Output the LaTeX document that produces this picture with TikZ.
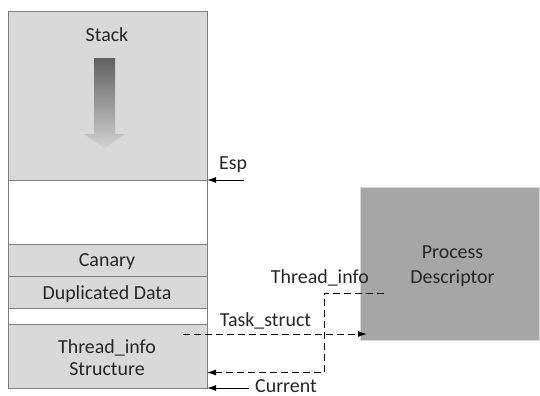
\documentclass[tikz,border=0pt]{standalone}
\usepackage{fontspec}
\setmainfont{Carlito}
\usetikzlibrary{arrows.meta}
\definecolor{boxfill}{HTML}{D9D9D9}
\definecolor{boxline}{HTML}{7F7F7F}
\definecolor{pdfill}{HTML}{A6A6A6}
\tikzset{
  mem/.style={draw=boxline, line width=0.9bp, fill=boxfill},
  blank/.style={draw=boxline, line width=0.9bp, fill=white},
  lbl/.style={font=\fontsize{20}{24}\selectfont, text=black!85, inner sep=0pt},
  ptr/.style={-{Latex[length=9bp,width=6bp]}, line width=1bp, black},
  dptr/.style={ptr, dash pattern=on 7bp off 4bp},
}
\begin{document}
\begin{tikzpicture}[x=1bp,y=-1bp]
\useasboundingbox (0,0) rectangle (540,395);
% stack column
\path[mem] (8,11) rectangle (207,180);
\path[blank] (8,180) rectangle (207,244);
\path[mem] (8,244) rectangle (207,276);
\path[mem] (8,276) rectangle (207,308);
\path[blank] (8,308) rectangle (207,324);
\path[mem] (8,324) rectangle (207,388);
\node[lbl, anchor=base] (stack) at (107,41.5) {Stack};
\node[lbl, anchor=base] (canary) at (107,266.5) {Canary};
\node[lbl, anchor=base] (dup) at (107,299) {Duplicated Data};
\node[lbl, anchor=base] (ti1) at (107,353) {Thread\_info};
\node[lbl, anchor=base] (ti2) at (107,375.5) {Structure};
% gradient arrow
\shade[top color=black!62, bottom color=black!18]
  (94,58) -- (115,58) -- (115,134) -- (125,134) -- (104.5,148) -- (84,134) -- (94,134) -- cycle;
% coordinates
\coordinate (espend) at (207,180);
\coordinate (espstart) at (244,180);
\coordinate (curend) at (207,388);
\coordinate (curstart) at (249,388);
\node[lbl, anchor=base west] (esp) at (219,169.5) {Esp};
\node[lbl, anchor=base west] (cur) at (255,392.5) {Current};
\draw[ptr] (espstart) -- (espend);
\draw[ptr] (curstart) -- (curend);
% process descriptor
\node[draw=white!85!black, line width=1bp, fill=pdfill, minimum width=179bp, minimum height=153bp, inner sep=0pt] (pd) at (450,263.5) {};
\node[lbl, anchor=base] (pdt1) at (452.5,258) {Process};
\node[lbl, anchor=base] (pdt2) at (452.5,283) {Descriptor};
\node[lbl, anchor=base east] (tilbl) at (369,283) {Thread\_info};
\node[lbl, anchor=base] (tslbl) at (265.5,326) {Task\_struct};
% dashed pointers
\coordinate (tsstart) at (183,334);
\coordinate (tsend) at (367,334);
\draw[dptr] (tsstart) -- (tsend);
\coordinate (tistart) at (384,293);
\coordinate (tiend) at (207,372.5);
\draw[dptr] (tistart) -- (324,293) -- (324,372.5) -- (tiend);
\end{tikzpicture}
\end{document}
